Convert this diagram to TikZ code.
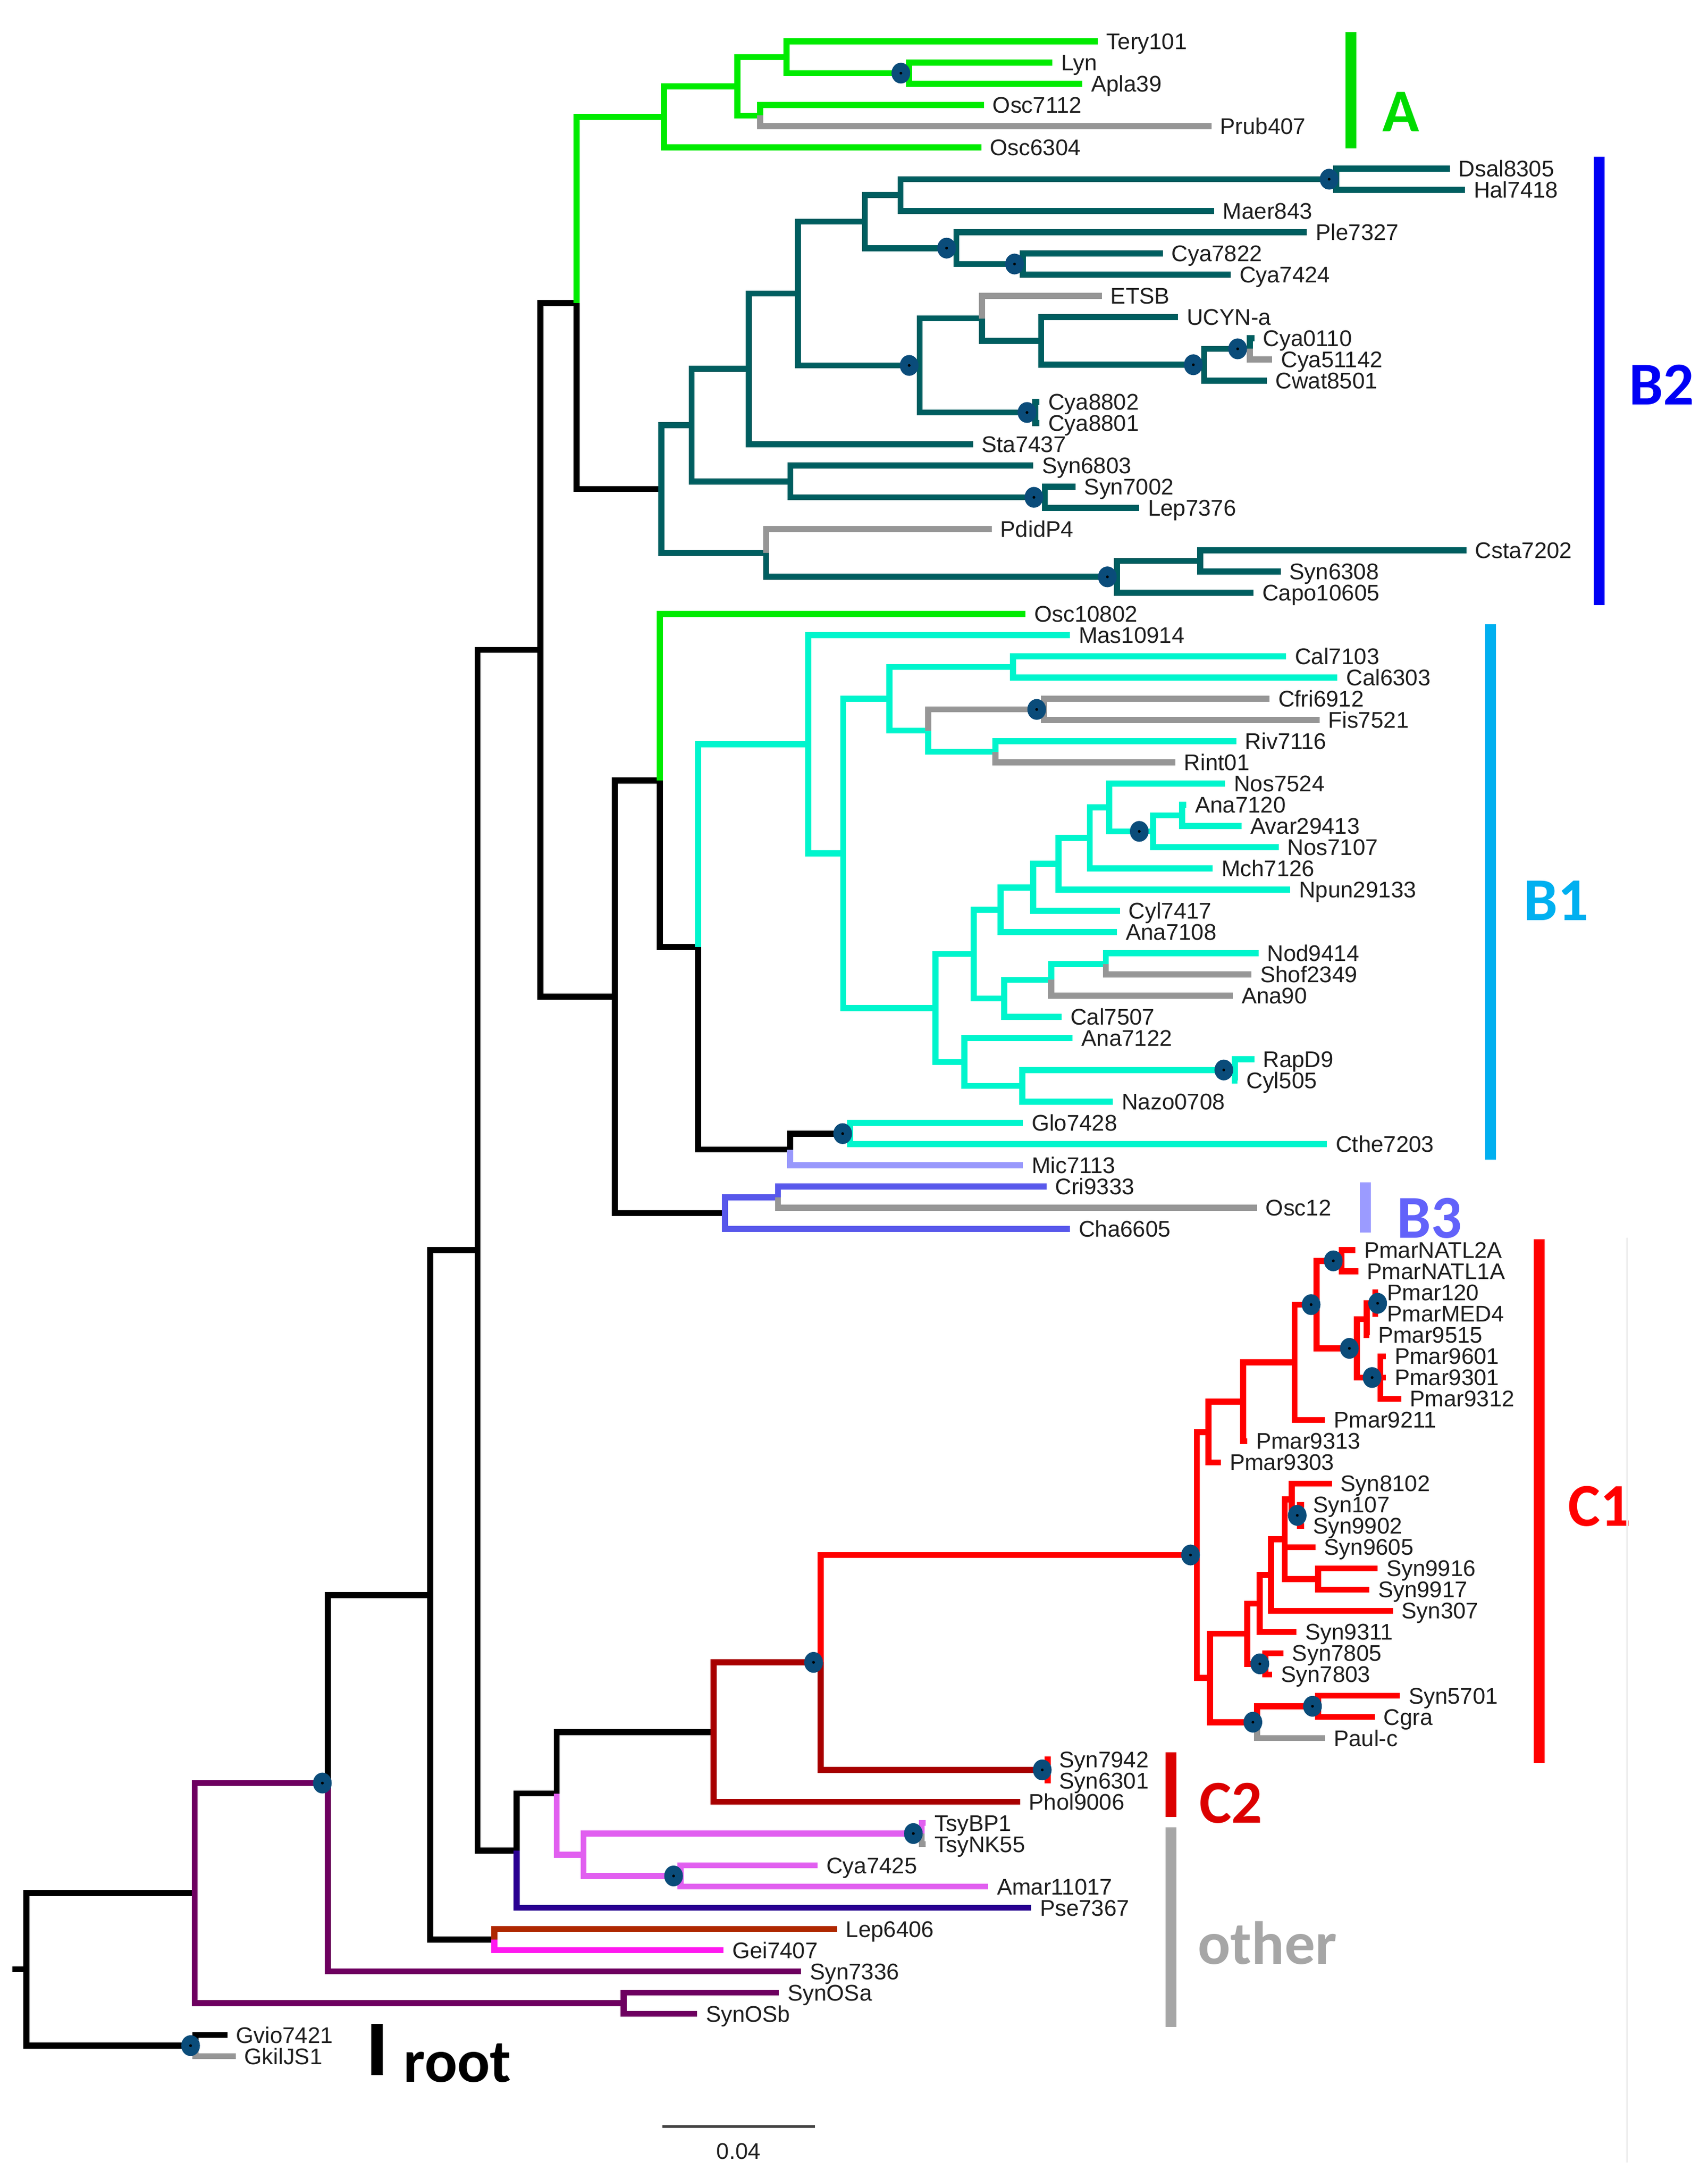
\documentclass[tikz,border=0pt]{standalone}
\usepackage{fontspec}
\usetikzlibrary{shapes.geometric}
\newfontfamily\tipfamily{Liberation Sans}
\newfontfamily\clabfamily{Carlito}
\newcommand{\tipY}[1]{29.8+15.3*(#1)}
\newcommand{\brn}[3]{\draw[br,#1] (#2) |- (#3);}
\definecolor{cGreen}{RGB}{0,235,0}
\definecolor{cTeal}{RGB}{0,94,96}
\definecolor{cAqua}{RGB}{0,245,205}
\definecolor{cGray}{RGB}{150,150,150}
\definecolor{cBlueV}{RGB}{88,88,235}
\definecolor{cLav}{RGB}{152,152,252}
\definecolor{cRed}{RGB}{255,0,0}
\definecolor{cDRed}{RGB}{168,0,0}
\definecolor{cPurple}{RGB}{110,0,96}
\definecolor{cPink}{RGB}{225,95,240}
\definecolor{cPse}{RGB}{42,0,145}
\definecolor{cLep}{RGB}{175,40,0}
\definecolor{cGei}{RGB}{255,25,240}
\definecolor{cDot}{RGB}{10,76,122}
\definecolor{cTxt}{RGB}{30,30,30}
\definecolor{cLabA}{RGB}{0,220,0}
\definecolor{cLabB2}{RGB}{0,0,245}
\definecolor{cLabB1}{RGB}{0,176,240}
\definecolor{cBarB3}{RGB}{155,155,255}
\definecolor{cLabB3}{RGB}{98,98,250}
\definecolor{cLabC2}{RGB}{220,0,0}
\definecolor{cLabO}{RGB}{166,166,166}
\tikzset{
  br/.style={line width=0.087cm, line join=miter},
  tl/.style={anchor=west, inner xsep=0.12cm, inner ysep=0pt, text height=6.6pt, text depth=0pt,
    font=\tipfamily\fontsize{9.3}{11}\selectfont, text=cTxt},
  dotn/.style={ellipse, fill=cDot, minimum width=0.27cm, minimum height=0.30cm, inner sep=0pt,
    path picture={\fill[black] (path picture bounding box.center) circle (0.02cm);}},
  clab/.style={anchor=base west, inner sep=0pt, font=\clabfamily\bfseries\fontsize{25}{30}\selectfont},
  cbar/.style={line width=0.155cm},
}
\begin{document}
\begin{tikzpicture}[x=0.02cm, y=-0.02cm]
\fill[white] (0,0) rectangle (1232,1571.15);
\useasboundingbox (0,0) rectangle (1232,1571.15);

% ---------- internal nodes ----------
\coordinate (stub) at (9,{\tipY{90.9}});
\coordinate (n19) at (19,{\tipY{90.9}});
\coordinate (n140) at (140.5,{\tipY{87.31}});
\coordinate (n141) at (141,{\tipY{94.5}});
\coordinate (n450) at (450,{\tipY{92.5}});
\coordinate (n236) at (236.5,{\tipY{82.12}});
\coordinate (n310) at (310.5,{\tipY{73.25}});
\coordinate (n357) at (356.6,{\tipY{89.5}});
\coordinate (n344) at (344.5,{\tipY{57.0}});
\coordinate (n372) at (372.7,{\tipY{85.30}});
\coordinate (n401) at (401.6,{\tipY{82.61}});
\coordinate (n421) at (421,{\tipY{85.5}});
\coordinate (n665) at (665,{\tipY{84.5}});
\coordinate (n491) at (491,{\tipY{86.5}});
\coordinate (n514) at (515,{\tipY{79.72}});
\coordinate (n593) at (592,{\tipY{76.43}});
\coordinate (n757) at (756,{\tipY{81.5}});
\coordinate (n390) at (390,{\tipY{28.69}});
\coordinate (n416) at (416,{\tipY{12.337}});
\coordinate (n443) at (443.5,{\tipY{45.05}});
\coordinate (n476) at (476,{\tipY{34.849}});
\coordinate (n503) at (503.7,{\tipY{42.6975}});
\coordinate (n570m) at (570.2,{\tipY{52.25}});
\coordinate (n613) at (613.5,{\tipY{51.5}});
\coordinate (n523) at (523,{\tipY{55.25}});
\coordinate (n561) at (561.3,{\tipY{54.5}});
% A
\coordinate (n479) at (479,{\tipY{3.5625}});
\coordinate (n532) at (532,{\tipY{2.125}});
\coordinate (n567) at (567.5,{\tipY{0.75}});
\coordinate (n655) at (656,{\tipY{1.5}});
\coordinate (n548) at (548.5,{\tipY{3.5}});
% B2
\coordinate (n477) at (477.3,{\tipY{21.1113}});
\coordinate (n499) at (499,{\tipY{18.0977}});
\coordinate (n540) at (540.2,{\tipY{15.4453}});
\coordinate (n576) at (575.8,{\tipY{11.8906}});
\coordinate (n624) at (624,{\tipY{8.5}});
\coordinate (n650) at (649.7,{\tipY{7.25}});
\coordinate (n964) at (964,{\tipY{6.5}});
\coordinate (n690) at (690,{\tipY{9.75}});
\coordinate (n738) at (738,{\tipY{10.5}});
\coordinate (n663) at (663.5,{\tipY{15.2813}});
\coordinate (n708) at (708.4,{\tipY{13.0625}});
\coordinate (n751) at (751.2,{\tipY{14.125}});
\coordinate (n869) at (868.8,{\tipY{15.25}});
\coordinate (n902) at (901.7,{\tipY{14.5}});
\coordinate (n748) at (747,{\tipY{17.5}});
\coordinate (n570) at (570.3,{\tipY{20.75}});
\coordinate (n754) at (753.8,{\tipY{21.5}});
\coordinate (n553) at (552.8,{\tipY{24.125}});
\coordinate (n806) at (806,{\tipY{25.25}});
\coordinate (n866) at (866,{\tipY{24.5}});
% B1
\coordinate (n583) at (583.2,{\tipY{33.145}});
\coordinate (n608) at (608.3,{\tipY{38.29}});
\coordinate (n642) at (641.8,{\tipY{31}});
\coordinate (n731) at (730.9,{\tipY{29.5}});
\coordinate (n670) at (669.6,{\tipY{32.5}});
\coordinate (n753) at (753.4,{\tipY{31.5}});
\coordinate (n718) at (718.3,{\tipY{33.5}});
\coordinate (n675) at (674.9,{\tipY{45.58}});
\coordinate (n703) at (702.6,{\tipY{43.035}});
\coordinate (n722) at (722,{\tipY{40.945}});
\coordinate (n746) at (745.5,{\tipY{39.891}});
\coordinate (n764) at (763.8,{\tipY{38.781}});
\coordinate (n786) at (786.3,{\tipY{37.5625}});
\coordinate (n800) at (800.4,{\tipY{36.125}});
\coordinate (n832) at (831.9,{\tipY{37.25}});
\coordinate (n853) at (852.8,{\tipY{36.5}});
\coordinate (n725) at (724.6,{\tipY{45.125}});
\coordinate (n759) at (758.6,{\tipY{44.25}});
\coordinate (n798) at (797.9,{\tipY{43.5}});
\coordinate (n696) at (695.8,{\tipY{48.125}});
\coordinate (n738b) at (737.7,{\tipY{49.25}});
\coordinate (n891) at (891,{\tipY{48.5}});
% C1
\coordinate (n864) at (863.6,{\tipY{71.367}});
\coordinate (n872) at (872,{\tipY{65.57}});
\coordinate (n897) at (897,{\tipY{64.14}});
\coordinate (n934) at (934,{\tipY{62.28}});
\coordinate (n950) at (950,{\tipY{59.5625}});
\coordinate (n968) at (968,{\tipY{57.5}});
\coordinate (n979) at (979,{\tipY{61.625}});
\coordinate (n986) at (986,{\tipY{60.25}});
\coordinate (n992) at (992.5,{\tipY{59.5}});
\coordinate (n996) at (996,{\tipY{63}});
\coordinate (n873) at (873,{\tipY{77.164}});
\coordinate (n900) at (900,{\tipY{75.078}});
\coordinate (n909) at (909,{\tipY{73.656}});
\coordinate (n917) at (917,{\tipY{72.3125}});
\coordinate (n927) at (927,{\tipY{70.625}});
\coordinate (n932) at (932,{\tipY{68.75}});
\coordinate (n937) at (938,{\tipY{69.5}});
\coordinate (n951) at (951,{\tipY{72.5}});
\coordinate (n913) at (913,{\tipY{76.5}});
\coordinate (n907) at (907,{\tipY{79.25}});
\coordinate (n951c) at (951,{\tipY{78.5}});

% ---------- tips ----------
\node[tl] (tery) at (792,{\tipY{0}}) {Tery101};
\node[tl] (lyn) at (759.4,{\tipY{1}}) {Lyn};
\node[tl] (apla) at (781,{\tipY{2}}) {Apla39};
\node[tl] (osc7112) at (710,{\tipY{3}}) {Osc7112};
\node[tl] (prub) at (874,{\tipY{4}}) {Prub407};
\node[tl] (osc6304) at (708,{\tipY{5}}) {Osc6304};
\node[tl] (dsal) at (1046,{\tipY{6}}) {Dsal8305};
\node[tl] (hal) at (1057,{\tipY{7}}) {Hal7418};
\node[tl] (maer) at (876,{\tipY{8}}) {Maer843};
\node[tl] (ple) at (943,{\tipY{9}}) {Ple7327};
\node[tl] (cya7822) at (839,{\tipY{10}}) {Cya7822};
\node[tl] (cya7424) at (888,{\tipY{11}}) {Cya7424};
\node[tl] (etsb) at (795,{\tipY{12}}) {ETSB};
\node[tl] (ucyn) at (850,{\tipY{13}}) {UCYN-a};
\node[tl] (cya0110) at (905,{\tipY{14}}) {Cya0110};
\node[tl] (cya51142) at (918,{\tipY{15}}) {Cya51142};
\node[tl] (cwat) at (914,{\tipY{16}}) {Cwat8501};
\node[tl] (cya8802) at (750,{\tipY{17}}) {Cya8802};
\node[tl] (cya8801) at (750,{\tipY{18}}) {Cya8801};
\node[tl] (sta) at (702,{\tipY{19}}) {Sta7437};
\node[tl] (syn6803) at (745.5,{\tipY{20}}) {Syn6803};
\node[tl] (syn7002) at (776,{\tipY{21}}) {Syn7002};
\node[tl] (lep7376) at (822,{\tipY{22}}) {Lep7376};
\node[tl] (pdid) at (715.5,{\tipY{23}}) {PdidP4};
\node[tl] (csta) at (1058,{\tipY{24}}) {Csta7202};
\node[tl] (syn6308) at (924,{\tipY{25}}) {Syn6308};
\node[tl] (capo) at (904.5,{\tipY{26}}) {Capo10605};
\node[tl] (osc10802) at (740,{\tipY{27}}) {Osc10802};
\node[tl] (mas) at (772,{\tipY{28}}) {Mas10914};
\node[tl] (cal7103) at (928,{\tipY{29}}) {Cal7103};
\node[tl] (cal6303) at (965,{\tipY{30}}) {Cal6303};
\node[tl] (cfri) at (916,{\tipY{31}}) {Cfri6912};
\node[tl] (fis) at (952,{\tipY{32}}) {Fis7521};
\node[tl] (riv) at (892,{\tipY{33}}) {Riv7116};
\node[tl] (rint) at (848,{\tipY{34}}) {Rint01};
\node[tl] (nos7524) at (884,{\tipY{35}}) {Nos7524};
\node[tl] (ana7120) at (856,{\tipY{36}}) {Ana7120};
\node[tl] (avar) at (896,{\tipY{37}}) {Avar29413};
\node[tl] (nos7107) at (922.5,{\tipY{38}}) {Nos7107};
\node[tl] (mch) at (875,{\tipY{39}}) {Mch7126};
\node[tl] (npun) at (931,{\tipY{40}}) {Npun29133};
\node[tl] (cyl7417) at (808,{\tipY{41}}) {Cyl7417};
\node[tl] (ana7108) at (806,{\tipY{42}}) {Ana7108};
\node[tl] (nod) at (908,{\tipY{43}}) {Nod9414};
\node[tl] (shof) at (903,{\tipY{44}}) {Shof2349};
\node[tl] (ana90) at (889.5,{\tipY{45}}) {Ana90};
\node[tl] (cal7507) at (766,{\tipY{46}}) {Cal7507};
\node[tl] (ana7122) at (774,{\tipY{47}}) {Ana7122};
\node[tl] (rapd9) at (905,{\tipY{48}}) {RapD9};
\node[tl] (cyl505) at (893,{\tipY{49}}) {Cyl505};
\node[tl] (nazo) at (803,{\tipY{50}}) {Nazo0708};
\node[tl] (glo) at (738,{\tipY{51}}) {Glo7428};
\node[tl] (cthe) at (957.5,{\tipY{52}}) {Cthe7203};
\node[tl] (mic) at (738,{\tipY{53}}) {Mic7113};
\node[tl] (cri) at (755,{\tipY{54}}) {Cri9333};
\node[tl] (osc12) at (907,{\tipY{55}}) {Osc12};
\node[tl] (cha) at (772,{\tipY{56}}) {Cha6605};
\node[tl] (natl2a) at (978,{\tipY{57}}) {PmarNATL2A};
\node[tl] (natl1a) at (980,{\tipY{58}}) {PmarNATL1A};
\node[tl] (pmar120) at (994.5,{\tipY{59}}) {Pmar120};
\node[tl] (med4) at (994.5,{\tipY{60}}) {PmarMED4};
\node[tl] (pmar9515) at (988,{\tipY{61}}) {Pmar9515};
\node[tl] (pmar9601) at (1000,{\tipY{62}}) {Pmar9601};
\node[tl] (pmar9301) at (1000,{\tipY{63}}) {Pmar9301};
\node[tl] (pmar9312) at (1011,{\tipY{64}}) {Pmar9312};
\node[tl] (pmar9211) at (956,{\tipY{65}}) {Pmar9211};
\node[tl] (pmar9313) at (900,{\tipY{66}}) {Pmar9313};
\node[tl] (pmar9303) at (881,{\tipY{67}}) {Pmar9303};
\node[tl] (syn8102) at (961,{\tipY{68}}) {Syn8102};
\node[tl] (syn107) at (941,{\tipY{69}}) {Syn107};
\node[tl] (syn9902) at (941,{\tipY{70}}) {Syn9902};
\node[tl] (syn9605) at (949,{\tipY{71}}) {Syn9605};
\node[tl] (syn9916) at (994,{\tipY{72}}) {Syn9916};
\node[tl] (syn9917) at (988,{\tipY{73}}) {Syn9917};
\node[tl] (syn307) at (1005,{\tipY{74}}) {Syn307};
\node[tl] (syn9311) at (935.5,{\tipY{75}}) {Syn9311};
\node[tl] (syn7805) at (926,{\tipY{76}}) {Syn7805};
\node[tl] (syn7803) at (918,{\tipY{77}}) {Syn7803};
\node[tl] (syn5701) at (1010,{\tipY{78}}) {Syn5701};
\node[tl] (cgra) at (992,{\tipY{79}}) {Cgra};
\node[tl] (paulc) at (956,{\tipY{80}}) {Paul-c};
\node[tl] (syn7942) at (758,{\tipY{81}}) {Syn7942};
\node[tl] (syn6301) at (758,{\tipY{82}}) {Syn6301};
\node[tl] (phol) at (736,{\tipY{83}}) {Phol9006};
\node[tl] (tsybp1) at (668,{\tipY{84}}) {TsyBP1};
\node[tl] (tsynk) at (668,{\tipY{85}}) {TsyNK55};
\node[tl] (cya7425) at (590,{\tipY{86}}) {Cya7425};
\node[tl] (amar) at (713,{\tipY{87}}) {Amar11017};
\node[tl] (pse) at (744,{\tipY{88}}) {Pse7367};
\node[tl] (lep6406) at (604,{\tipY{89}}) {Lep6406};
\node[tl] (gei) at (522,{\tipY{90}}) {Gei7407};
\node[tl] (syn7336) at (578,{\tipY{91}}) {Syn7336};
\node[tl] (synosa) at (562,{\tipY{92}}) {SynOSa};
\node[tl] (synosb) at (503,{\tipY{93}}) {SynOSb};
\node[tl] (gvio) at (164,{\tipY{94}}) {Gvio7421};
\node[tl] (gkil) at (170,{\tipY{95}}) {GkilJS1};

% ---------- branches ----------
% black backbone
\draw[br,black] (stub) -- (n19);
\brn{black}{n19}{n140}
\brn{black}{n19}{n141}
\brn{black}{n141}{gvio.west}
\brn{black}{n236}{n310}
\brn{black}{n310}{n344}
\brn{black}{n310}{n357}
\brn{black}{n344}{n390}
\brn{black}{n344}{n372}
\brn{black}{n372}{n401}
\brn{black}{n401}{n514}
\brn{black}{n390}{n416}
\brn{black}{n390}{n443}
\brn{black}{n416}{n477}
\brn{black}{n443}{n476}
\brn{black}{n443}{n523}
\brn{black}{n476}{n503}
\brn{black}{n503}{n570m}
\brn{black}{n570m}{n613}
% purple
\brn{cPurple}{n140}{n236}
\brn{cPurple}{n140}{n450}
\brn{cPurple}{n236}{syn7336.west}
\brn{cPurple}{n450}{synosa.west}
\brn{cPurple}{n450}{synosb.west}
% others group
\brn{cLep}{n357}{lep6406.west}
\brn{cGei}{n357}{gei.west}
\brn{cPse}{n372}{pse.west}
\brn{cPink}{n401}{n421}
\brn{cPink}{n421}{n665}
\brn{cPink}{n421}{n491}
\brn{cPink}{n665}{tsybp1.west}
\brn{cGray}{n665}{tsynk.west}
\brn{cPink}{n491}{cya7425.west}
\brn{cPink}{n491}{amar.west}
\brn{cGray}{n141}{gkil.west}
% C2
\brn{cDRed}{n514}{n593}
\brn{cDRed}{n514}{phol.west}
\brn{cDRed}{n593}{n757}
\brn{cRed}{n757}{syn7942.west}
\brn{cRed}{n757}{syn6301.west}
% C1
\brn{cRed}{n593}{n864}
\brn{cRed}{n864}{n872}
\brn{cRed}{n864}{n873}
\brn{cRed}{n872}{n897}
\brn{cRed}{n872}{pmar9303.west}
\brn{cRed}{n897}{n934}
\brn{cRed}{n897}{pmar9313.west}
\brn{cRed}{n934}{n950}
\brn{cRed}{n934}{pmar9211.west}
\brn{cRed}{n950}{n968}
\brn{cRed}{n950}{n979}
\brn{cRed}{n968}{natl2a.west}
\brn{cRed}{n968}{natl1a.west}
\brn{cRed}{n979}{n986}
\brn{cRed}{n979}{n996}
\brn{cRed}{n986}{n992}
\brn{cRed}{n986}{pmar9515.west}
\brn{cRed}{n992}{pmar120.west}
\brn{cRed}{n992}{med4.west}
\brn{cRed}{n996}{pmar9601.west}
\brn{cRed}{n996}{pmar9301.west}
\brn{cRed}{n996}{pmar9312.west}
\brn{cRed}{n873}{n900}
\brn{cRed}{n873}{n907}
\brn{cRed}{n900}{n909}
\brn{cRed}{n900}{n913}
\brn{cRed}{n909}{n917}
\brn{cRed}{n909}{syn9311.west}
\brn{cRed}{n917}{n927}
\brn{cRed}{n917}{syn307.west}
\brn{cRed}{n927}{n932}
\brn{cRed}{n927}{syn9605.west}
\brn{cRed}{n927}{n951}
\brn{cRed}{n932}{syn8102.west}
\brn{cRed}{n932}{n937}
\brn{cRed}{n937}{syn107.west}
\brn{cRed}{n937}{syn9902.west}
\brn{cRed}{n951}{syn9916.west}
\brn{cRed}{n951}{syn9917.west}
\brn{cRed}{n913}{syn7805.west}
\brn{cRed}{n913}{syn7803.west}
\brn{cRed}{n907}{n951c}
\brn{cGray}{n907}{paulc.west}
\brn{cRed}{n951c}{syn5701.west}
\brn{cRed}{n951c}{cgra.west}
% B3 and Mic
\brn{cLav}{n570m}{mic.west}
\brn{cBlueV}{n523}{n561}
\brn{cBlueV}{n523}{cha.west}
\brn{cBlueV}{n561}{cri.west}
\brn{cGray}{n561}{osc12.west}
% A
\brn{cGreen}{n416}{n479}
\brn{cGreen}{n479}{n532}
\brn{cGreen}{n479}{osc6304.west}
\brn{cGreen}{n532}{n567}
\brn{cGreen}{n532}{n548}
\brn{cGreen}{n567}{tery.west}
\brn{cGreen}{n567}{n655}
\brn{cGreen}{n655}{lyn.west}
\brn{cGreen}{n655}{apla.west}
\brn{cGreen}{n548}{osc7112.west}
\brn{cGray}{n548}{prub.west}
\brn{cGreen}{n476}{osc10802.west}
% B2
\brn{cTeal}{n477}{n499}
\brn{cTeal}{n477}{n553}
\brn{cTeal}{n499}{n540}
\brn{cTeal}{n499}{n570}
\brn{cTeal}{n540}{n576}
\brn{cTeal}{n540}{sta.west}
\brn{cTeal}{n576}{n624}
\brn{cTeal}{n576}{n663}
\brn{cTeal}{n624}{n650}
\brn{cTeal}{n624}{n690}
\brn{cTeal}{n650}{n964}
\brn{cTeal}{n650}{maer.west}
\brn{cTeal}{n964}{dsal.west}
\brn{cTeal}{n964}{hal.west}
\brn{cTeal}{n690}{ple.west}
\brn{cTeal}{n690}{n738}
\brn{cTeal}{n738}{cya7822.west}
\brn{cTeal}{n738}{cya7424.west}
\brn{cTeal}{n663}{n708}
\brn{cTeal}{n663}{n748}
\brn{cGray}{n708}{etsb.west}
\brn{cTeal}{n708}{n751}
\brn{cTeal}{n751}{ucyn.west}
\brn{cTeal}{n751}{n869}
\brn{cTeal}{n869}{n902}
\brn{cTeal}{n869}{cwat.west}
\brn{cTeal}{n902}{cya0110.west}
\brn{cGray}{n902}{cya51142.west}
\brn{cTeal}{n748}{cya8802.west}
\brn{cTeal}{n748}{cya8801.west}
\brn{cTeal}{n570}{syn6803.west}
\brn{cTeal}{n570}{n754}
\brn{cTeal}{n754}{syn7002.west}
\brn{cTeal}{n754}{lep7376.west}
\brn{cGray}{n553}{pdid.west}
\brn{cTeal}{n553}{n806}
\brn{cTeal}{n806}{n866}
\brn{cTeal}{n806}{capo.west}
\brn{cTeal}{n866}{csta.west}
\brn{cTeal}{n866}{syn6308.west}
% B1
\brn{cAqua}{n503}{n583}
\brn{cAqua}{n583}{mas.west}
\brn{cAqua}{n583}{n608}
\brn{cAqua}{n608}{n642}
\brn{cAqua}{n608}{n675}
\brn{cAqua}{n642}{n731}
\brn{cAqua}{n642}{n670}
\brn{cAqua}{n731}{cal7103.west}
\brn{cAqua}{n731}{cal6303.west}
\brn{cGray}{n670}{n753}
\brn{cAqua}{n670}{n718}
\brn{cGray}{n753}{cfri.west}
\brn{cGray}{n753}{fis.west}
\brn{cAqua}{n718}{riv.west}
\brn{cGray}{n718}{rint.west}
\brn{cAqua}{n675}{n703}
\brn{cAqua}{n675}{n696}
\brn{cAqua}{n703}{n722}
\brn{cAqua}{n703}{n725}
\brn{cAqua}{n722}{n746}
\brn{cAqua}{n722}{ana7108.west}
\brn{cAqua}{n746}{n764}
\brn{cAqua}{n746}{cyl7417.west}
\brn{cAqua}{n764}{n786}
\brn{cAqua}{n764}{npun.west}
\brn{cAqua}{n786}{n800}
\brn{cAqua}{n786}{mch.west}
\brn{cAqua}{n800}{nos7524.west}
\brn{cAqua}{n800}{n832}
\brn{cAqua}{n832}{n853}
\brn{cAqua}{n832}{nos7107.west}
\brn{cAqua}{n853}{ana7120.west}
\brn{cAqua}{n853}{avar.west}
\brn{cAqua}{n725}{n759}
\brn{cAqua}{n725}{cal7507.west}
\brn{cAqua}{n759}{n798}
\brn{cGray}{n759}{ana90.west}
\brn{cAqua}{n798}{nod.west}
\brn{cGray}{n798}{shof.west}
\brn{cAqua}{n696}{ana7122.west}
\brn{cAqua}{n696}{n738b}
\brn{cAqua}{n738b}{n891}
\brn{cAqua}{n738b}{nazo.west}
\brn{cAqua}{n891}{rapd9.west}
\brn{cAqua}{n891}{cyl505.west}
\brn{cAqua}{n613}{glo.west}
\brn{cAqua}{n613}{cthe.west}

% ---------- support dots ----------
\node[dotn] (d01) at (650,{\tipY{1.5}}) {};
\node[dotn] (d02) at (959,{\tipY{6.5}}) {};
\node[dotn] (d03) at (683,{\tipY{9.75}}) {};
\node[dotn] (d04) at (732,{\tipY{10.5}}) {};
\node[dotn] (d05) at (656,{\tipY{15.2813}}) {};
\node[dotn] (d06) at (861,{\tipY{15.25}}) {};
\node[dotn] (d07) at (893,{\tipY{14.5}}) {};
\node[dotn] (d08) at (741,{\tipY{17.5}}) {};
\node[dotn] (d09) at (746,{\tipY{21.5}}) {};
\node[dotn] (d10) at (799,{\tipY{25.25}}) {};
\node[dotn] (d11) at (748,{\tipY{31.5}}) {};
\node[dotn] (d12) at (822,{\tipY{37.25}}) {};
\node[dotn] (d13) at (883,{\tipY{48.5}}) {};
\node[dotn] (d14) at (608,{\tipY{51.5}}) {};
\node[dotn] (d15) at (962,{\tipY{57.5}}) {};
\node[dotn] (d16) at (946,{\tipY{59.5625}}) {};
\node[dotn] (d17) at (994,{\tipY{59.5}}) {};
\node[dotn] (d18) at (973.6,{\tipY{61.625}}) {};
\node[dotn] (d19) at (990,{\tipY{63}}) {};
\node[dotn] (d20) at (936,{\tipY{69.5}}) {};
\node[dotn] (d21) at (859,{\tipY{71.367}}) {};
\node[dotn] (d22) at (909,{\tipY{76.5}}) {};
\node[dotn] (d23) at (947,{\tipY{78.5}}) {};
\node[dotn] (d24) at (904,{\tipY{79.25}}) {};
\node[dotn] (d25) at (587,{\tipY{76.43}}) {};
\node[dotn] (d26) at (752,{\tipY{81.5}}) {};
\node[dotn] (d27) at (659,{\tipY{84.5}}) {};
\node[dotn] (d28) at (486,{\tipY{86.5}}) {};
\node[dotn] (d29) at (232.6,{\tipY{82.12}}) {};
\node[dotn] (d30) at (137.5,{\tipY{94.5}}) {};

% ---------- clade bars and labels ----------
\draw[cbar,cLabA] (974.7,23) -- (974.7,107);
\node[clab,text=cLabA] (labA) at (997,95) {A};
\draw[cbar,cLabB2] (1153.7,113) -- (1153.7,436.6);
\node[clab,text=cLabB2] (labB2) at (1175,292) {B2};
\draw[cbar,cLabB1] (1075.4,450.5) -- (1075.4,836.4);
\node[clab,text=cLabB1] (labB1) at (1099,664) {B1};
\draw[cbar,cBarB3] (985.3,853) -- (985.3,889);
\node[clab,text=cLabB3] (labB3) at (1007.5,893) {B3};
\draw[cbar,cRed] (1110.5,894) -- (1110.5,1272);
\node[clab,text=cRed] (labC1) at (1131,1101) {C1};
\draw[cbar,cLabC2] (844.8,1264) -- (844.8,1310.7);
\node[clab,text=cLabC2] (labC2) at (865,1315) {C2};
\draw[cbar,cLabO] (845,1318) -- (845,1462);
\node[clab,text=cLabO] (labO) at (864,1417) {other};
\draw[line width=0.17cm,black] (272,1460) -- (272,1497);
\node[clab,text=black] (labR) at (291,1502) {root};

% faint frame line at right
\draw[line width=0.025cm, black!7] (1174,893) -- (1174,1560);

% ---------- scale bar ----------
\coordinate (sb1) at (478,1534);
\coordinate (sb2) at (588,1534);
\draw[line width=0.04cm, black!75] (sb1) -- (sb2);
\node[font=\tipfamily\fontsize{9.3}{11}\selectfont, text=cTxt, inner sep=0pt] (sblab) at (533,1552) {0.04};
\end{tikzpicture}
\end{document}
